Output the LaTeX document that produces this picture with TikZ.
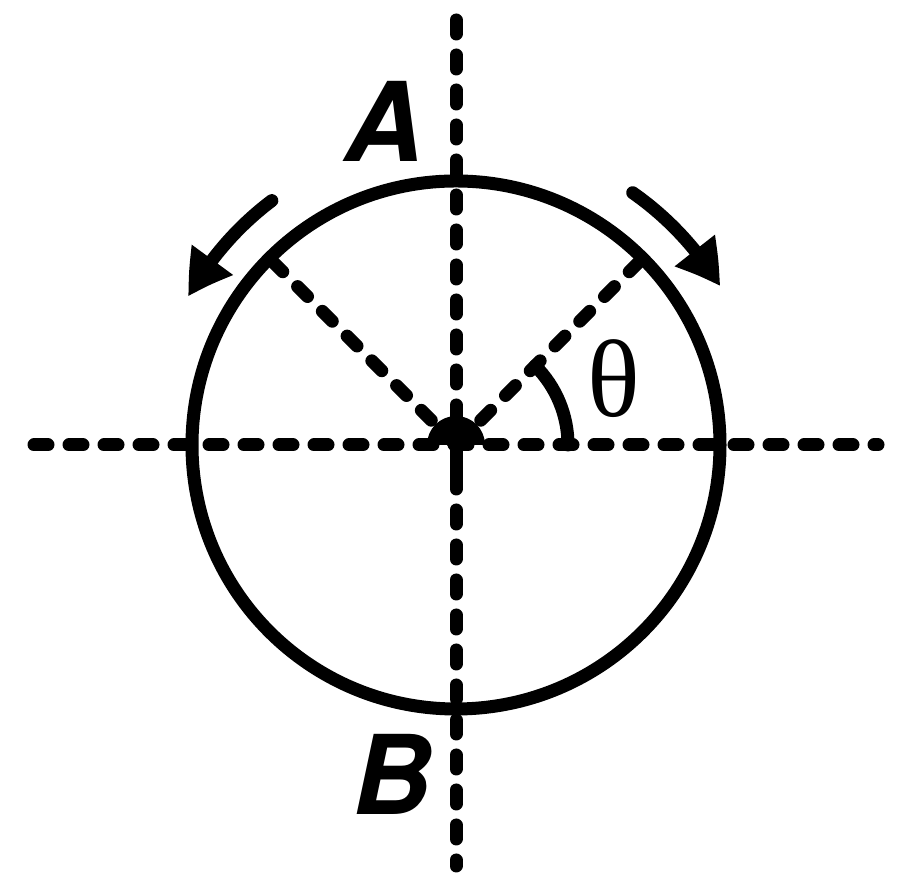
\documentclass[tikz,border=0pt]{standalone}
\usepackage{fontspec}
\setmainfont{TeX Gyre Heros}
\newfontfamily\thetafont{Liberation Serif}
\usetikzlibrary{arrows.meta,calc,bending}
\begin{document}
\begin{tikzpicture}[x=1pt,y=1pt,
  dline/.style={line width=13pt,line cap=round,dash pattern=on 14pt off 21pt},
  thick line/.style={line width=13pt},
  lbl/.style={font=\fontsize{110}{110}\selectfont\bfseries\itshape,inner sep=0pt,anchor=base},
  turn/.style={line width=13pt,line cap=round,-{Triangle[length=44pt,width=48pt,bend]}}]
\useasboundingbox (0,0) rectangle (900,890);
\coordinate (C) at (456,445);
\coordinate (top) at (456,870);
\coordinate (bot) at (456,24);
\coordinate (lft) at (34,445);
\coordinate (rgt) at (878,445);
\coordinate (ul) at ($(C)+(135:262)$);
\coordinate (ur) at ($(C)+(45:262)$);
% dashed axes
\draw[dline] (top) -- (bot);
\draw[dline] (lft) -- (rgt);
\draw[dline] (C) -- (ul);
\draw[dline] (C) -- (ur);
% circle
\node[draw,circle,thick line,minimum size=528pt,inner sep=0pt] (ring) at (C) {};
% pivot
\fill (C) ++(29,0) arc[start angle=0,end angle=180,radius=29] -- cycle;
\fill (C) ++(-6.5,0) rectangle ++(13,-30);
% angle arc
\draw[thick line,line cap=round] ($(C)+(45:112)$) arc[start angle=45,end angle=0,radius=112];
% rotation arrows
\draw[turn] ($(C)+(127:306)$) arc[start angle=127,end angle=151,radius=306];
\draw[turn] ($(C)+(55:308)$) arc[start angle=55,end angle=31,radius=308];
% labels
\node[lbl] (A) at (384,728) {A};
\node[lbl] (B) at (392,75) {B};
\node[inner sep=0pt,anchor=base,font=\fontsize{110}{110}\selectfont\thetafont] (theta) at (614,473) {θ};
\end{tikzpicture}
\end{document}
